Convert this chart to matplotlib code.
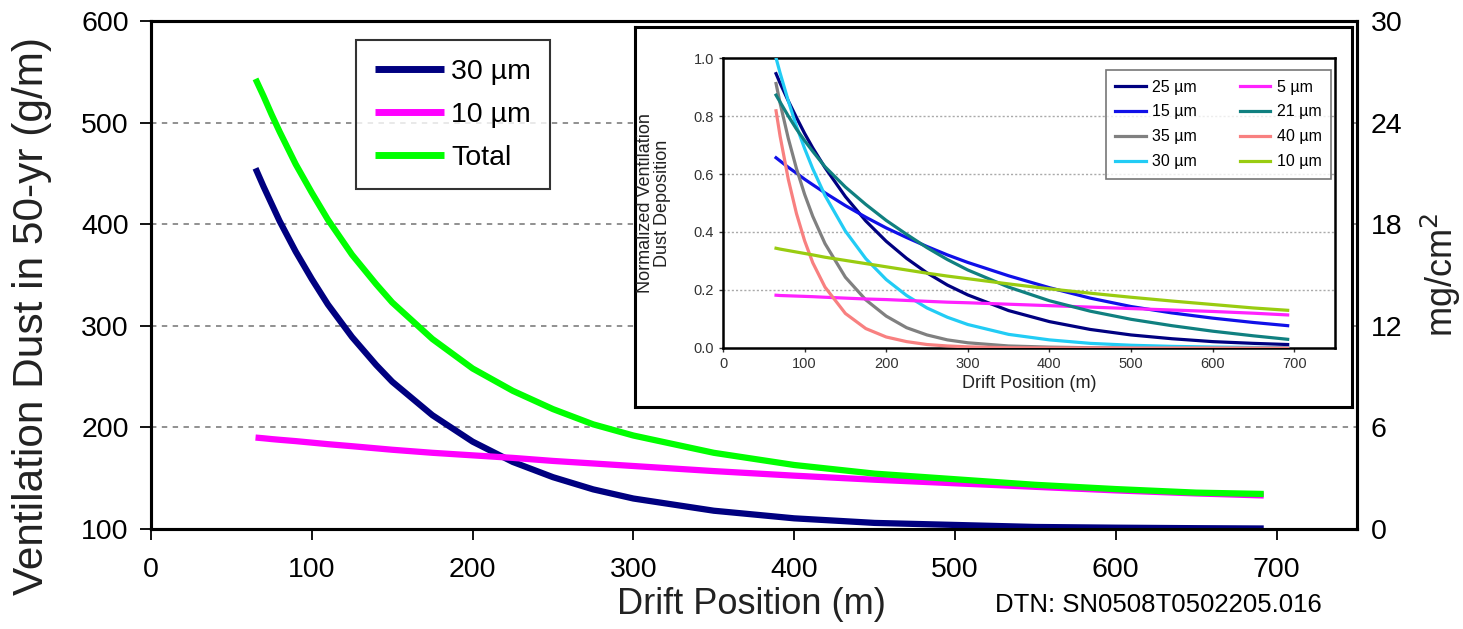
import matplotlib
matplotlib.use('Agg')
import matplotlib.pyplot as plt

plt.rcParams['font.family'] = ['Liberation Sans', 'DejaVu Sans']

# ---------------- main chart data ----------------
main_x = [65, 70, 75, 80, 90, 100, 110, 125, 140, 150, 175, 200, 225, 250, 275,
          300, 350, 400, 450, 500, 550, 600, 650, 692]
dust_30um = [455, 437, 420, 403, 373, 346, 321, 289, 261.5, 245, 212, 186, 166, 151, 139,
             130, 118, 110.5, 106, 104, 102, 101.3, 100.8, 100.5]
dust_10um = [190, 189.3, 188.5, 187.8, 186.5, 185, 183.5, 181.5, 179.4, 178, 175, 172.5, 170,
             167, 164.5, 162, 157, 152.5, 148.5, 145, 141.5, 138, 135, 133]
dust_total = [543, 526, 508, 491, 459, 431, 404.5, 370, 341, 323, 287, 258, 236, 218, 203,
              192, 175, 163, 154.5, 149, 143.5, 139.3, 135.8, 134.5]
main_labels = ['30 µm', '10 µm', 'Total']
main_colors = ['#000080', '#FF00FF', '#00FF00']
left_ticks = [100, 200, 300, 400, 500, 600]
right_ticks = [0, 6, 12, 18, 24, 30]
x_ticks = [0, 100, 200, 300, 400, 500, 600, 700]

# ---------------- inset data ----------------
inset_x = [65, 70, 80, 90, 100, 110, 125, 150, 175, 200, 225, 250, 275, 300, 350, 400,
           450, 500, 550, 600, 650, 692]
d25 = [0.946, 0.913, 0.852, 0.795, 0.740, 0.690, 0.622, 0.522, 0.438, 0.368, 0.309, 0.259,
       0.217, 0.183, 0.129, 0.091, 0.064, 0.045, 0.032, 0.022, 0.016, 0.012]
d15 = [0.656, 0.645, 0.623, 0.603, 0.582, 0.563, 0.535, 0.491, 0.451, 0.414, 0.381, 0.350,
       0.321, 0.295, 0.249, 0.208, 0.172, 0.143, 0.121, 0.103, 0.088, 0.077]
d35 = [0.912, 0.844, 0.723, 0.619, 0.530, 0.454, 0.360, 0.244, 0.166, 0.110, 0.070, 0.045,
       0.028, 0.018, 0.007, 0.003, 0.001, 0.0, 0.0, 0.0, 0.0, 0.0]
d30 = [1.0, 0.948, 0.852, 0.765, 0.688, 0.618, 0.526, 0.403, 0.308, 0.236, 0.181, 0.138,
       0.106, 0.081, 0.047, 0.028, 0.016, 0.0095, 0.0056, 0.0033, 0.0019, 0.0012]
d5 = [0.182, 0.181, 0.180, 0.179, 0.178, 0.177, 0.175, 0.172, 0.169, 0.167, 0.164, 0.161,
      0.158, 0.156, 0.151, 0.146, 0.141, 0.136, 0.131, 0.126, 0.120, 0.114]
d21 = [0.872, 0.848, 0.80, 0.755, 0.715, 0.678, 0.625, 0.555, 0.495, 0.44, 0.392, 0.346,
       0.305, 0.269, 0.210, 0.163, 0.127, 0.099, 0.077, 0.058, 0.042, 0.030]
d40 = [0.818, 0.730, 0.582, 0.464, 0.370, 0.294, 0.210, 0.119, 0.067, 0.038, 0.022, 0.012,
       0.007, 0.004, 0.001, 0.0, 0.0, 0.0, 0.0, 0.0, 0.0, 0.0]
d10 = [0.344, 0.341, 0.336, 0.331, 0.326, 0.321, 0.313, 0.302, 0.291, 0.280, 0.269, 0.258,
       0.248, 0.239, 0.221, 0.204, 0.189, 0.175, 0.162, 0.150, 0.138, 0.130]
inset_series = [d25, d15, d35, d30, d5, d21, d40, d10]
inset_labels = ['25 µm', '15 µm', '35 µm', '30 µm', '5 µm', '21 µm', '40 µm', '10 µm']
inset_colors = ['#000080', '#1010E8', '#808080', '#22CCF5', '#FF22FF', '#108080', '#F88080', '#99CC11']
inset_yticks = [0.0, 0.2, 0.4, 0.6, 0.8, 1.0]

W, H = 1463, 629
fig = plt.figure(figsize=(W / 100, H / 100), dpi=100)

def fx(px):
    return px / W

def fy(py):
    return 1 - py / H

# main axes
L, R, T, B = 151, 1357, 21, 529
ax = fig.add_axes([fx(L), fy(B), fx(R - L), (B - T) / H])
ax.set_xlim(0, 750)
ax.set_ylim(100, 600)
for y in [200, 300, 400, 500]:
    ax.axhline(y, color='#888888', lw=1.3, ls=(0, (3, 3)), zorder=0)
for ys, lab, c in zip([dust_30um, dust_10um, dust_total], main_labels, main_colors):
    ax.plot(main_x, ys, color=c, lw=4.5, label=lab, solid_capstyle='butt', zorder=3)
ax.set_xticks(x_ticks)
ax.set_yticks(left_ticks)
ax.tick_params(axis='both', labelsize=20.5, length=8, width=1.3, direction='out',
               colors='black')
ax.tick_params(axis='x', pad=12)
ax.tick_params(axis='y', pad=8)
for s in ax.spines.values():
    s.set_linewidth(2.2)
ax.set_ylabel('Ventilation Dust in 50-yr (g/m)', fontsize=30.5, color='#222222')
ax.yaxis.set_label_coords(-0.082, 0.42)
ax.set_xlabel('Drift Position (m)', fontsize=26, color='#222222')
ax.xaxis.set_label_coords(0.498, -0.114)
leg = ax.legend(loc='upper left', bbox_to_anchor=((356 - L) / (R - L), (B - 40) / (B - T)),
                borderaxespad=0, fontsize=20.5, frameon=True, fancybox=False,
                handlelength=2.45, handletextpad=0.25, labelspacing=0.6,
                borderpad=0.65)
leg.get_frame().set_edgecolor('black')
leg.get_frame().set_linewidth(1.5)
for h in leg.get_lines():
    h.set_linewidth(5)

ax2 = ax.twinx()
ax2.set_ylim(0, 30)
ax2.set_yticks(right_ticks)
ax2.tick_params(axis='y', labelsize=20.5, length=0, pad=10)
for s in ax2.spines.values():
    s.set_linewidth(2.2)
ax2.set_ylabel('mg/cm$^2$', fontsize=26, color='#222222')
ax2.yaxis.set_label_coords(1.051, 0.5)

# inset frame
fr = fig.add_axes([fx(635), fy(407), fx(1352 - 635), (407 - 27) / H])
fr.set_xticks([])
fr.set_yticks([])
fr.set_facecolor('white')
for s in fr.spines.values():
    s.set_linewidth(2.2)

# inset axes
iax = fig.add_axes([fx(723), fy(348), fx(1335 - 723), (348 - 58) / H])
iax.set_xlim(0, 750)
iax.set_ylim(0, 1.0)
for y in [0.2, 0.4, 0.6, 0.8]:
    iax.axhline(y, color='#aaaaaa', lw=1.0, ls=(0, (1.5, 1.5)), zorder=0)
for ys, lab, c in zip(inset_series, inset_labels, inset_colors):
    iax.plot(inset_x, ys, color=c, lw=2.3, label=lab, zorder=3)
iax.set_xticks(x_ticks)
iax.set_yticks(inset_yticks)
iax.set_yticklabels(['%.1f' % v for v in inset_yticks])
iax.tick_params(axis='both', labelsize=10.5, length=3, width=1, colors='#333333')
for s in iax.spines.values():
    s.set_linewidth(1.8)
iax.set_xlabel('Drift Position (m)', fontsize=13, color='#222222', labelpad=3)
iax.set_ylabel('Normalized Ventilation\nDust Deposition', fontsize=13, color='#222222',
               linespacing=1.0)
iax.yaxis.set_label_coords(-0.085, 0.5)
ileg = iax.legend(loc='upper right', bbox_to_anchor=((1331 - 723) / (1335 - 723), (348 - 70) / (348 - 58)),
                  borderaxespad=0, ncol=2, fontsize=11.5, frameon=True, fancybox=False,
                  handlelength=1.9, handletextpad=0.4, columnspacing=2.7,
                  labelspacing=0.62, borderpad=0.6)
ileg.get_frame().set_edgecolor('#555555')
ileg.get_frame().set_linewidth(1.2)

fig.text(fx(995), fy(605), 'DTN: SN0508T0502205.016', fontsize=18.5, ha='left',
         va='center', color='black')

fig.savefig('out.png', dpi=100)
